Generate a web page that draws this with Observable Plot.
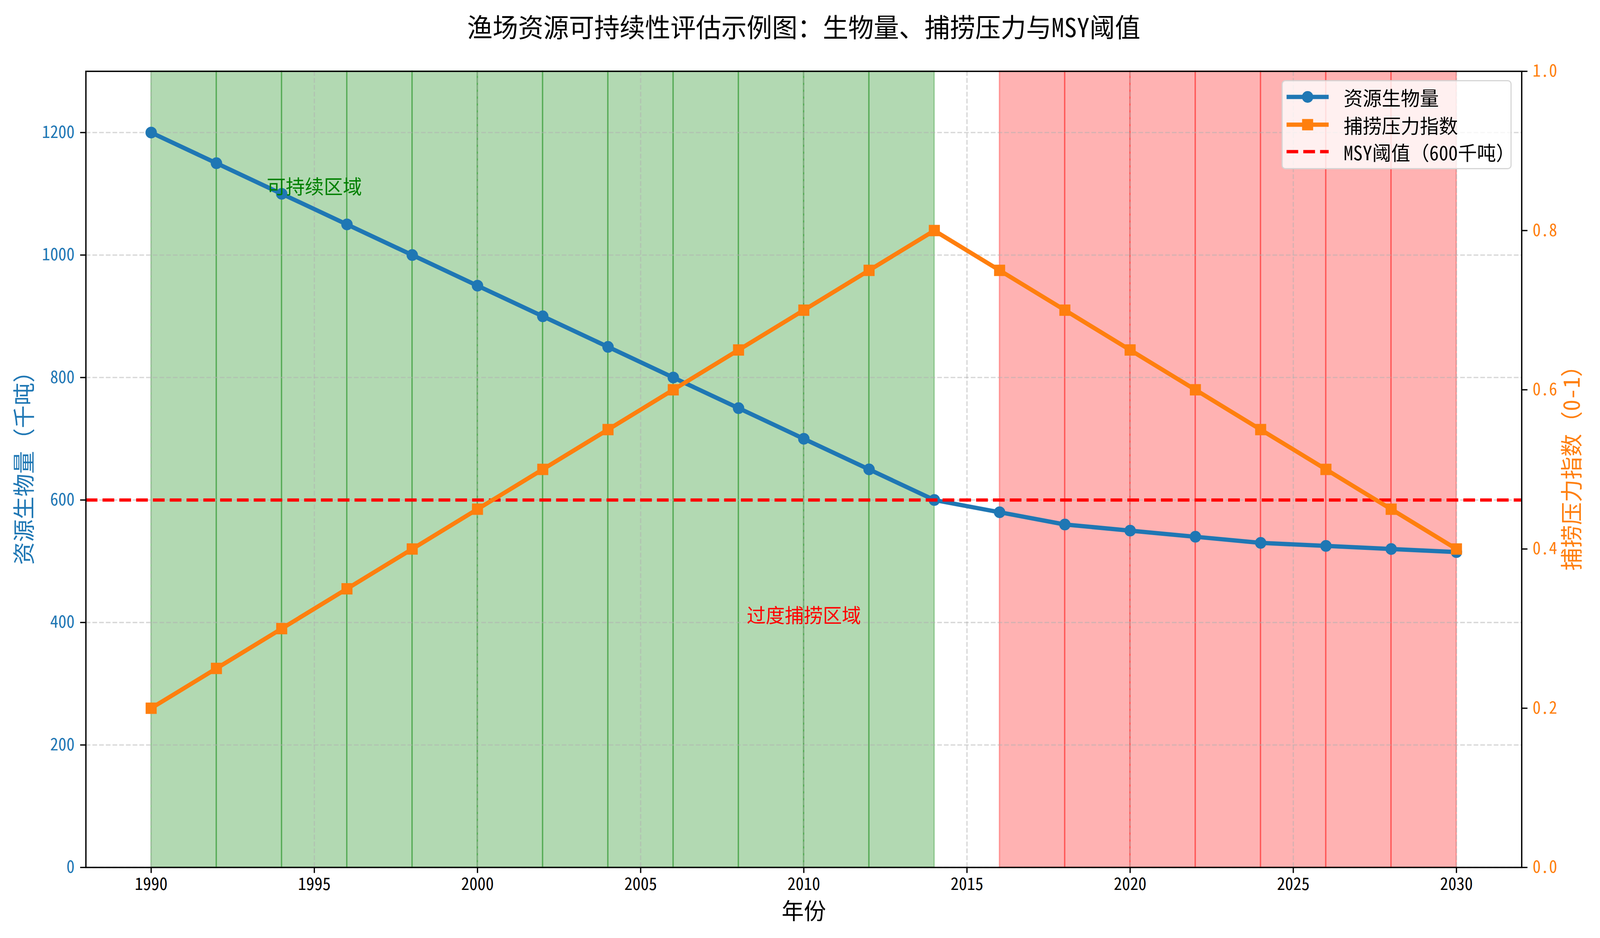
<!DOCTYPE html>
<html>
<head>
<meta charset="utf-8">
<script src="https://cdn.jsdelivr.net/npm/d3@7"></script>
<script src="https://cdn.jsdelivr.net/npm/@observablehq/plot@0.6"></script>
<style>
  html, body { margin: 0; padding: 0; background: #ffffff; overflow: hidden; }
  #chart { position: relative; width: 4200px; height: 2400px; overflow: hidden; transform-origin: 0 0; }
  #chart > svg { position: absolute; left: 0; top: 0; }
  .legend { position: absolute; box-sizing: border-box; background: rgba(255,255,255,0.8);
            border: 3px solid rgba(204,204,204,0.8); border-radius: 10px;
            font-family: 'Noto Sans Mono CJK SC', 'Noto Sans CJK SC', sans-serif; }
  .legend .row-h { position: absolute; }
  .legend .row-t { position: absolute; font-size: 50px; color: #000; white-space: nowrap; transform: translateY(-50%); line-height: 1; }
</style>
</head>
<body>
<div id="chart"></div>
<script>
// ---------------- data ----------------
const years    = [1990, 1992, 1994, 1996, 1998, 2000, 2002, 2004, 2006, 2008, 2010, 2012, 2014, 2016, 2018, 2020, 2022, 2024, 2026, 2028, 2030];
const biomass  = [1200, 1150, 1100, 1050, 1000, 950, 900, 850, 800, 750, 700, 650, 600, 580, 560, 550, 540, 530, 525, 520, 515];
const pressure = [0.20, 0.25, 0.30, 0.35, 0.40, 0.45, 0.50, 0.55, 0.60, 0.65, 0.70, 0.75, 0.80, 0.75, 0.70, 0.65, 0.60, 0.55, 0.50, 0.45, 0.40];
const msyValue = 600;

const xTicks      = [1990, 1995, 2000, 2005, 2010, 2015, 2020, 2025, 2030];
const yTicksLeft  = [0, 200, 400, 600, 800, 1000, 1200];
const yTicksRight = [0, 0.2, 0.4, 0.6, 0.8, 1.0];

const annoTexts  = ["可持续区域", "过度捕捞区域"];
const annoYears  = [1995, 2010];
const annoValues = [1100, 400];
const annoColors = ["green", "red"];

const titleText   = "渔场资源可持续性评估示例图：生物量、捕捞压力与MSY阈值";
const xLabelText  = "年份";
const yLabelLeft  = "资源生物量（千吨）";
const yLabelRight = "捕捞压力指数（0-1）";
const legendNames = ["资源生物量", "捕捞压力指数", "MSY阈值（600千吨）"];

// ---------------- derived tables ----------------
const data = years.map((y, i) => ({year: y, biomass: biomass[i], pressure: pressure[i]}));
// zones between consecutive observations, classified relative to MSY
const greenSpans = [], redSpans = [];
for (let i = 0; i < years.length - 1; i++) {
  const s = {x1: years[i], x2: years[i + 1]};
  if (biomass[i] > msyValue) greenSpans.push(s);
  else if (biomass[i] < msyValue) redSpans.push(s);
}
const annos = annoTexts.map((t, i) => ({text: t, year: annoYears[i], value: annoValues[i], color: annoColors[i]}));

// ---------------- layout ----------------
const W = 4200, H = 2400;
const mL = 225, mR = 206, mT = 182, mB = 181;
const FONT = "'Noto Sans Mono CJK SC', 'Noto Sans CJK SC', sans-serif";
const BLUE = "#1f77b4", ORANGE = "#ff7f0e";
const gridStyle = {stroke: "#b0b0b0", strokeOpacity: 0.5, strokeWidth: 3.3, strokeDasharray: "12.3,5.3"};
const centered = {textAnchor: "middle", lineAnchor: "middle"};

const p1 = Plot.plot({
  width: W, height: H,
  marginLeft: mL, marginRight: mR, marginTop: mT, marginBottom: mB,
  style: {fontFamily: FONT, background: "white", overflow: "visible"},
  x: {domain: [1988, 2032]},
  y: {domain: [0, 1300]},
  marks: [
    Plot.rect(greenSpans, {x1: "x1", x2: "x2", fill: "green", fillOpacity: 0.3, stroke: "green", strokeOpacity: 0.3, strokeWidth: 3.5}),
    Plot.rect(redSpans, {x1: "x1", x2: "x2", fill: "red", fillOpacity: 0.3, stroke: "red", strokeOpacity: 0.3, strokeWidth: 3.5}),
    Plot.gridX({ticks: xTicks, ...gridStyle}),
    Plot.gridY({ticks: yTicksLeft, ...gridStyle}),
    Plot.line(data, {x: "year", y: "biomass", stroke: BLUE, strokeWidth: 11}),
    Plot.dot(data, {x: "year", y: "biomass", fill: BLUE, r: 15}),
    Plot.ruleY([msyValue], {stroke: "red", strokeWidth: 8.3, strokeDasharray: "30.8,13.3"}),
    Plot.text(annos.filter(d => d.color === "green"), {x: "year", y: "value", text: "text", fill: "green", fontSize: 50, dy: -16}),
    Plot.text(annos.filter(d => d.color === "red"), {x: "year", y: "value", text: "text", fill: "red", fontSize: 50, dy: -16}),
    Plot.axisX({ticks: xTicks, tickFormat: d => String(d), tickSize: 14.6, tickPadding: 12, fontSize: 43,
                stroke: "black", strokeWidth: 3.3, fill: "black", label: null}),
    Plot.axisY({anchor: "left", ticks: yTicksLeft, tickFormat: d => String(d), tickSize: 14.6, tickPadding: 15, fontSize: 43,
                stroke: "black", strokeWidth: 3.3, fill: BLUE, label: null}),
    Plot.text([titleText], {frameAnchor: "top", dy: -109, ...centered, text: d => d, fontSize: 66.7, fill: "black"}),
    Plot.text([xLabelText], {frameAnchor: "bottom", dy: 114, ...centered, text: d => d, fontSize: 58.3, fill: "black"}),
    Plot.text([yLabelLeft], {frameAnchor: "left", dx: -160, dy: -18, rotate: -90, ...centered, text: d => d, fontSize: 58.3, fill: BLUE})
  ]
});

const p2 = Plot.plot({
  width: W, height: H,
  marginLeft: mL, marginRight: mR, marginTop: mT, marginBottom: mB,
  style: {fontFamily: FONT, background: "transparent", overflow: "visible"},
  x: {domain: [1988, 2032], axis: null},
  y: {domain: [0, 1]},
  marks: [
    Plot.line(data, {x: "year", y: "pressure", stroke: ORANGE, strokeWidth: 11}),
    Plot.dot(data, {x: "year", y: "pressure", symbol: "square", fill: ORANGE, r: 16.4}),
    Plot.axisY({anchor: "right", ticks: yTicksRight, tickFormat: d => d.toFixed(1), tickSize: 14.6, tickPadding: 14, fontSize: 43,
                stroke: "black", strokeWidth: 3.3, fill: ORANGE, label: null}),
    Plot.text([yLabelRight], {frameAnchor: "right", dx: 133, dy: -18, rotate: -90, ...centered, text: d => d, fontSize: 58.3, fill: ORANGE}),
    Plot.frame({stroke: "black", strokeWidth: 3.5})
  ]
});

const chart = document.getElementById("chart");
chart.appendChild(p1);
chart.appendChild(p2);

// ---------------- legend ----------------
const legend = d3.select(chart).append("div").attr("class", "legend")
  .style("left", "3364px").style("top", "205px").style("width", "604px").style("height", "228px");
const rowY = [43, 114, 183];
const handles = [
  {stroke: BLUE, dash: null, marker: "circle"},
  {stroke: ORANGE, dash: null, marker: "square"},
  {stroke: "red", dash: "30.8,13.3", marker: null}
];
legendNames.forEach((name, i) => {
  const h = handles[i];
  const svg = legend.append("svg").attr("class", "row-h")
    .attr("width", 111).attr("height", 40)
    .style("left", "10px").style("top", (rowY[i] - 20 - 3) + "px");
  const lw = h.dash ? 8.3 : 11;
  svg.append("line").attr("x1", 0).attr("x2", 111).attr("y1", 20).attr("y2", 20)
    .attr("stroke", h.stroke).attr("stroke-width", lw).attr("stroke-dasharray", h.dash);
  if (h.marker === "circle") svg.append("circle").attr("cx", 55.5).attr("cy", 20).attr("r", 15).attr("fill", h.stroke);
  if (h.marker === "square") svg.append("rect").attr("x", 41).attr("y", 5.5).attr("width", 29).attr("height", 29).attr("fill", h.stroke);
  legend.append("div").attr("class", "row-t")
    .style("left", "160px").style("top", (rowY[i] - 3) + "px").text(name);
});

// fit the 4200x2400 drawing into the actual viewport if it is smaller
const vw = document.documentElement.clientWidth, vh = document.documentElement.clientHeight;
const sx = Math.min(1, vw / W), sy = Math.min(1, vh / H);
if (sx < 1 || sy < 1) chart.style.transform = `scale(${sx}, ${sy})`;
</script>
</body>
</html>
